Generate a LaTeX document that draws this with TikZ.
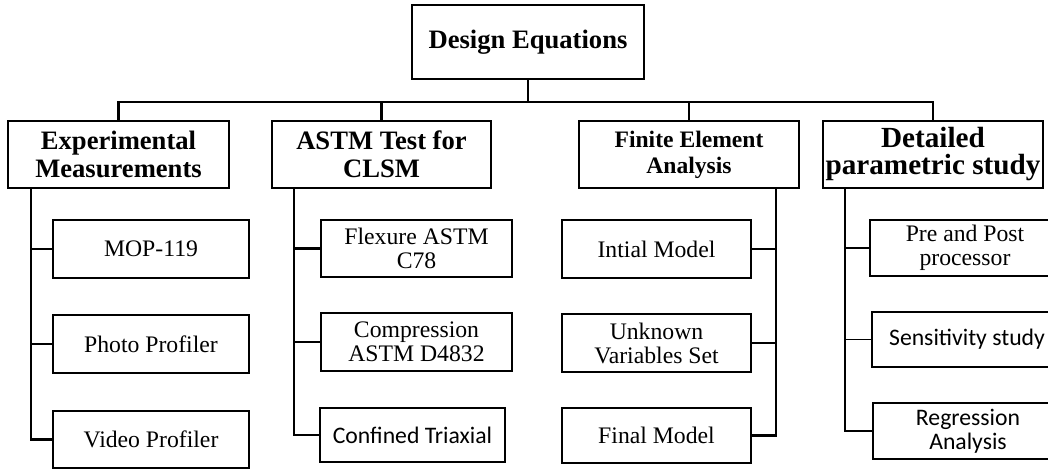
\documentclass[tikz,border=0pt]{standalone}
\usepackage{fontspec}
\setmainfont{Liberation Serif}
\newfontfamily\calib{Carlito}
\usetikzlibrary{positioning,calc}
\tikzset{
  head/.style={draw=black, line width=2.7pt, inner sep=0pt, align=center,
    font=\fontsize{26.6}{28}\selectfont\bfseries},
  item/.style={draw=black, line width=2.1pt, inner sep=0pt, align=center,
    font=\fontsize{23.7}{24}\selectfont},
  sitem/.style={item, line width=1.7pt, font=\fontsize{23.7}{24}\selectfont\calib},
  link/.style={draw=black, line width=2.7pt},
  thinlink/.style={draw=black, line width=1.8pt}
}
\begin{document}
\begin{tikzpicture}[x=1pt,y=-1pt]
    \clip (0,0) rectangle (1048,470);
    \useasboundingbox (0,0) rectangle (1048,470);

    \node[head, minimum width=232, minimum height=74] (de) at (528,42) {Design Equations};
    \coordinate (bus) at (0,102);

    \node[head, minimum width=221, minimum height=67] (exp) at (118.5,154.5) {Experimental\\Measurements};
    \node[head, minimum width=219, minimum height=67] (astm) at (381.5,154.5) {ASTM Test for\\CLSM};
    \node[head, minimum width=220, minimum height=67,
      font=\fontsize{23.6}{26}\selectfont\bfseries] (fea) at (689,154.5) {Finite Element\\Analysis};
    \node[head, minimum width=220, minimum height=67,
      font=\fontsize{29.2}{27}\selectfont\bfseries] (det) at (933,154.5) {Detailed\\parametric study};

    \node[item, minimum width=196, minimum height=58] (mop) at (151,249) {MOP-119};
    \node[item, minimum width=196, minimum height=58] (photo) at (151,344) {Photo Profiler};
    \node[item, minimum width=196, minimum height=57] (video) at (151,439.5) {Video Profiler};

    \node[item, minimum width=191, minimum height=57] (flex) at (416.5,248.5) {Flexure ASTM\\C78};
    \node[item, minimum width=191, minimum height=58] (comp) at (416.5,342) {Compression\\ASTM D4832};
    \node[sitem, minimum width=185, minimum height=54] (triax) at (412.5,435) {Confined Triaxial};

    \node[item, minimum width=189, minimum height=58] (init) at (656.5,249) {Intial Model};
    \node[item, minimum width=189, minimum height=58] (unk) at (656.5,343) {Unknown\\Variables Set};
    \node[item, minimum width=189, minimum height=55] (final) at (656.5,435.5) {Final Model};

    \node[item, minimum width=190, minimum height=56] (pre) at (965,248) {Pre and Post\\processor};
    \node[sitem, minimum width=190, minimum height=55] (sens) at (967,339.5) {Sensitivity study};
    \node[sitem, minimum width=190, minimum height=56] (regr) at (968,431) {Regression\\Analysis};

    \draw[link] (de.south) -- (de.south |- bus);
    \draw[link] (exp.north) |- (det.north |- bus) -- (det.north);
    \draw[link] (astm.north) -- (astm.north |- bus);
    \draw[link] (fea.north) -- (fea.north |- bus);

    \coordinate (expx) at (31,0);
    \coordinate (astmx) at (294,0);
    \coordinate (feax) at (776,0);
    \coordinate (detx) at (845,0);

    \draw[link] (exp.south -| expx) |- (video.west);
    \draw[link] (expx |- mop.west) -- (mop.west);
    \draw[link] (expx |- photo.west) -- (photo.west);

    \draw[link] (astm.south -| astmx) |- (comp.west);
    \draw[link] (astmx |- flex.west) -- (flex.west);
    \draw[thinlink] (astmx |- comp.west) |- (triax.west);

    \draw[link] (fea.south -| feax) |- (final.east);
    \draw[link] (feax |- init.east) -- (init.east);
    \draw[link] (feax |- unk.east) -- (unk.east);

    \draw[link] (det.south -| detx) |- (pre.west);
    \draw[thinlink] (detx |- pre.west) |- (regr.west);
    \draw[thinlink] (detx |- sens.west) -- (sens.west);
\end{tikzpicture}
\end{document}
